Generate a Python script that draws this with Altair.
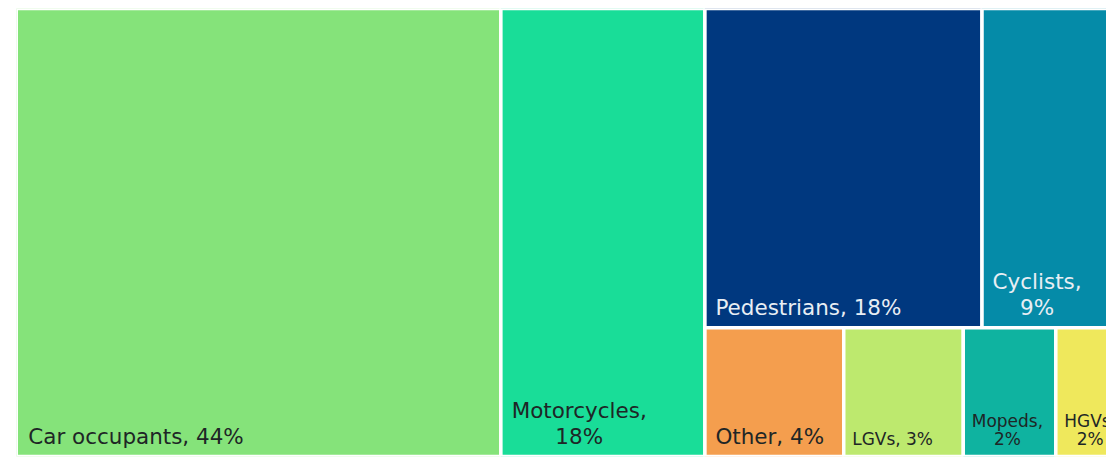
import altair as alt
import pandas as pd

# ---- data ----
categories = ["Car occupants", "Motorcycles", "Pedestrians", "Cyclists",
              "Other", "LGVs", "Mopeds", "HGVs"]
shares = [43.7, 18.4, 17.8, 9.2, 3.6, 3.1, 2.4, 1.8]
colours = ["#85E37A", "#19DD98", "#00387F", "#058BA8",
           "#F49E4E", "#BDE96E", "#0FB3A0", "#EFE85C"]
# nesting of the treemap: two columns, then a column split into two rows
layout = [0, 1, [[2, 3], [4, 5, 6, 7]]]

# ---- treemap geometry (px of the plot area) ----
TW, TH = 1110.0, 448.5     # whole treemap
VW = 1090.75               # visible part (the reference is cropped on the right)


def total(item):
    if isinstance(item, list):
        return sum(total(i) for i in item)
    return shares[item]


def place(items, x0, y0, x1, y1, horizontal, out):
    s = sum(total(i) for i in items)
    pos = x0 if horizontal else y0
    for it in items:
        frac = total(it) / s
        if horizontal:
            a, b = pos, pos + frac * (x1 - x0)
            box = (a, y0, b, y1)
        else:
            a, b = pos, pos + frac * (y1 - y0)
            box = (x0, a, x1, b)
        pos = b
        if isinstance(it, list):
            place(it, *box, not horizontal, out)
        else:
            out[it] = box


boxes = {}
place(layout, 0.0, 0.0, TW, TH, True, boxes)

# DejaVu Sans advance widths (em)
W = {" ": .318, ",": .318, "%": .950, "C": .698, "G": .775, "H": .752, "L": .557,
     "M": .863, "O": .787, "P": .603, "V": .684, "a": .613, "c": .550, "d": .635,
     "e": .615, "h": .634, "i": .278, "l": .278, "n": .634, "o": .612, "p": .635,
     "r": .411, "s": .521, "t": .392, "u": .634, "y": .592}


def tw(t, size):
    return sum(W.get(ch, .636 if ch.isdigit() else .6) for ch in t) * size


def is_dark(hexc):
    r, g, b = (int(hexc[i:i + 2], 16) for i in (1, 3, 5))
    return 0.299 * r + 0.587 * g + 0.114 * b < 115


rects, left_labels, centre_labels = [], [], []
for i, name in enumerate(categories):
    x0, y0, x1, y1 = boxes[i]
    rects.append({"name": name, "x0": x0, "x1": x1, "y0": y0, "y1": y1,
                  "colour": colours[i]})
    big = shares[i] >= 3.5
    size = 21.5 if big else 17
    pad = (10.5 if big else 8.5) + (1.5 if x0 == 0 else 0)
    lh = 26.5 if big else 18.5
    base = 12.5 if big else 11.5
    pct = f"{round(shares[i])}%"
    tcol = "#E8EEF4" if is_dark(colours[i]) else "#1E2626"
    full = f"{name}, {pct}"
    if tw(full, size) + 2 * pad + 4 <= (x1 - x0):
        left_labels.append({"t": full, "x": x0 + pad, "y": y1 - base,
                            "s": size, "c": tcol})
    else:
        l1 = f"{name},"
        cx = x0 + pad + tw(l1, size) / 2
        centre_labels.append({"t": l1, "x": cx, "y": y1 - base - lh, "s": size, "c": tcol})
        centre_labels.append({"t": pct, "x": cx, "y": y1 - base, "s": size, "c": tcol})

rdf = pd.DataFrame(rects)
ldf = pd.DataFrame(left_labels)
cdf = pd.DataFrame(centre_labels)

xs = alt.Scale(domain=[0, VW], nice=False, zero=False)
ys = alt.Scale(domain=[0, TH], nice=False, zero=False, reverse=True)

rect_layer = alt.Chart(rdf).mark_rect(stroke="white", strokeWidth=3.5, clip=True).encode(
    x=alt.X("x0:Q", scale=xs, axis=None),
    x2="x1:Q",
    y=alt.Y("y0:Q", scale=ys, axis=None),
    y2="y1:Q",
    color=alt.Color("colour:N", scale=None),
)

left_layer = alt.Chart(ldf).mark_text(align="left", baseline="alphabetic",
                                      font="DejaVu Sans", clip=True).encode(
    x=alt.X("x:Q", scale=xs, axis=None),
    y=alt.Y("y:Q", scale=ys, axis=None),
    text="t:N",
    size=alt.Size("s:Q", scale=None),
    color=alt.Color("c:N", scale=None),
)

centre_layer = alt.Chart(cdf).mark_text(align="center", baseline="alphabetic",
                                        font="DejaVu Sans", clip=True).encode(
    x=alt.X("x:Q", scale=xs, axis=None),
    y=alt.Y("y:Q", scale=ys, axis=None),
    text="t:N",
    size=alt.Size("s:Q", scale=None),
    color=alt.Color("c:N", scale=None),
)

chart = alt.layer(rect_layer, left_layer, centre_layer).properties(
    width=VW, height=TH,
    padding={"left": 8.25, "top": 0.25, "right": 0, "bottom": 0},
    background="white",
).configure_view(stroke=None)

chart.save("out.html", embed_options={"renderer": "svg", "actions": False})
